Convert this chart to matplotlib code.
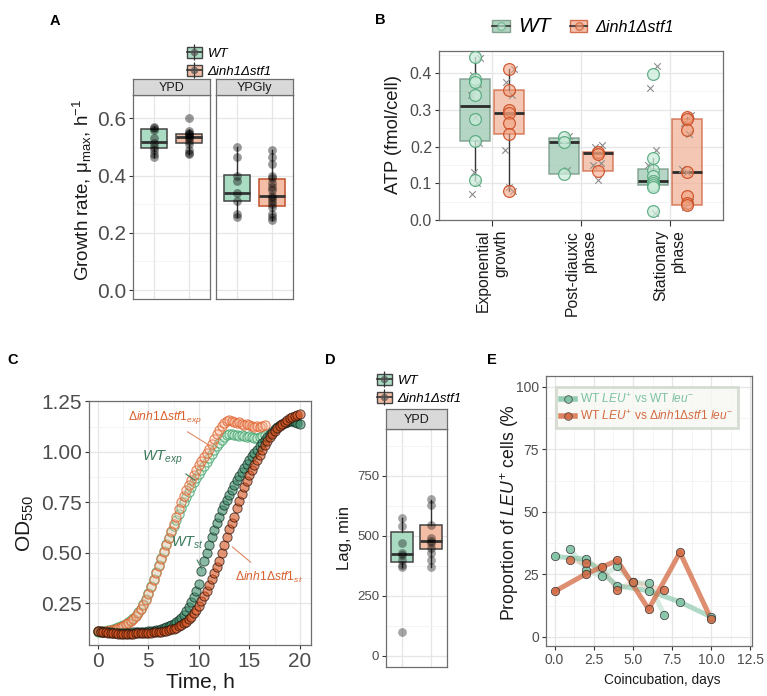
import numpy as np
import matplotlib.pyplot as plt
from matplotlib.patches import Patch
from matplotlib.lines import Line2D
from matplotlib.legend_handler import HandlerTuple

plt.rcParams['font.family'] = ['Liberation Sans', 'DejaVu Sans']
plt.rcParams['mathtext.fontset'] = 'custom'
plt.rcParams['mathtext.rm'] = 'Liberation Sans'
plt.rcParams['mathtext.it'] = 'Liberation Sans:italic'
plt.rcParams['mathtext.bf'] = 'Liberation Sans:bold'

# ---------------- data ----------------
# A: growth rate (box stats = lo, q1, median, q3, hi)
a_ypd_wt = [0.568, 0.565, 0.56, 0.53, 0.515, 0.50, 0.49, 0.475, 0.465]
a_ypd_mut = [0.60, 0.555, 0.55, 0.545, 0.54, 0.535, 0.53, 0.52, 0.51, 0.49, 0.48, 0.475]
a_ypgly_wt = [0.50, 0.465, 0.40, 0.38, 0.34, 0.31, 0.265, 0.255]
a_ypgly_mut = [0.49, 0.465, 0.44, 0.40, 0.39, 0.375, 0.36, 0.35, 0.33, 0.32, 0.31,
               0.30, 0.29, 0.265, 0.255, 0.245]
a_box_ypd = [[0.465, 0.495, 0.517, 0.563, 0.568], [0.475, 0.513, 0.535, 0.545, 0.56]]
a_box_ypgly = [[0.255, 0.31, 0.34, 0.403, 0.50], [0.245, 0.295, 0.33, 0.388, 0.49]]

# B: ATP per cell
b_phases = ['Exponential\ngrowth', 'Post-diauxic\nphase', 'Stationary\nphase']
b_wt_circ = [[0.443, 0.385, 0.375, 0.34, 0.275, 0.215, 0.11],
             [0.225, 0.213, 0.125],
             [0.398, 0.17, 0.135, 0.12, 0.105, 0.10, 0.095, 0.09, 0.025]]
b_mut_circ = [[0.41, 0.355, 0.30, 0.29, 0.265, 0.235, 0.08],
              [0.185, 0.18, 0.133],
              [0.28, 0.275, 0.245, 0.13, 0.065, 0.045, 0.04]]
b_wt_x = [[0.44, 0.395, 0.37, 0.34, 0.28, 0.21, 0.13, 0.10, 0.07],
          [0.23, 0.22, 0.135],
          [0.42, 0.36, 0.19, 0.15, 0.13, 0.11, 0.10, 0.02]]
b_mut_x = [[0.41, 0.375, 0.34, 0.19, 0.09, 0.08],
           [0.205, 0.20, 0.155, 0.15, 0.11],
           [0.285, 0.265, 0.235, 0.14, 0.13, 0.05, 0.035]]
b_wt_box = [[0.11, 0.215, 0.31, 0.383, 0.443], [0.125, 0.125, 0.212, 0.223, 0.225],
            [0.09, 0.095, 0.105, 0.14, 0.17]]
b_mut_box = [[0.08, 0.235, 0.29, 0.355, 0.41], [0.133, 0.133, 0.183, 0.185, 0.185],
             [0.04, 0.04, 0.13, 0.275, 0.28]]

# C: growth curves (OD550 every 15 min)
t_exp = np.arange(0, 16.51, 0.25)
t_st = np.arange(0, 20.01, 0.25)
od_wt_exp = [0.11, 0.11, 0.112, 0.114, 0.117, 0.12, 0.123, 0.127, 0.132, 0.137, 0.143, 0.15,
             0.158, 0.167, 0.178, 0.19, 0.205, 0.222, 0.245, 0.27, 0.30, 0.335, 0.37, 0.405,
             0.44, 0.475, 0.51, 0.545, 0.575, 0.605, 0.635, 0.665, 0.695, 0.72, 0.75, 0.775,
             0.80, 0.825, 0.85, 0.87, 0.89, 0.91, 0.93, 0.95, 0.97, 0.99, 1.01, 1.03, 1.045,
             1.06, 1.075, 1.085, 1.09, 1.09, 1.085, 1.085, 1.08, 1.085, 1.08, 1.075, 1.08,
             1.075, 1.07, 1.07, 1.075, 1.08, 1.085]
od_mut_exp = [0.115, 0.112, 0.11, 0.112, 0.114, 0.117, 0.12, 0.124, 0.128, 0.133, 0.139, 0.146,
              0.154, 0.163, 0.174, 0.187, 0.202, 0.22, 0.242, 0.268, 0.298, 0.33, 0.365, 0.40,
              0.435, 0.47, 0.505, 0.54, 0.575, 0.61, 0.645, 0.68, 0.715, 0.75, 0.78, 0.81,
              0.835, 0.86, 0.885, 0.91, 0.935, 0.955, 0.975, 0.995, 1.015, 1.04, 1.065, 1.09,
              1.11, 1.13, 1.145, 1.155, 1.16, 1.155, 1.15, 1.145, 1.15, 1.14, 1.135, 1.14,
              1.135, 1.13, 1.125, 1.13, 1.125, 1.13, 1.135]
od_wt_st = [0.115, 0.112, 0.11, 0.108, 0.107, 0.106, 0.105, 0.105, 0.104, 0.104, 0.104, 0.104,
            0.105, 0.105, 0.106, 0.106, 0.107, 0.108, 0.109, 0.11, 0.111, 0.113, 0.115, 0.117,
            0.12, 0.123, 0.127, 0.131, 0.136, 0.142, 0.149, 0.158, 0.168, 0.18, 0.195, 0.212,
            0.232, 0.255, 0.28, 0.31, 0.345, 0.41, 0.46, 0.50, 0.54, 0.58, 0.615, 0.65, 0.68,
            0.71, 0.735, 0.76, 0.785, 0.81, 0.835, 0.86, 0.88, 0.90, 0.92, 0.94, 0.96, 0.98,
            0.995, 1.01, 1.03, 1.045, 1.06, 1.075, 1.09, 1.10, 1.115, 1.125, 1.135, 1.14,
            1.145, 1.15, 1.155, 1.155, 1.15, 1.145, 1.14]
od_mut_st = [0.112, 0.11, 0.108, 0.106, 0.104, 0.103, 0.102, 0.101, 0.10, 0.10, 0.10, 0.10,
             0.10, 0.10, 0.10, 0.101, 0.101, 0.102, 0.102, 0.103, 0.104, 0.105, 0.106, 0.107,
             0.108, 0.11, 0.112, 0.115, 0.118, 0.121, 0.125, 0.13, 0.136, 0.143, 0.151, 0.16,
             0.172, 0.185, 0.20, 0.218, 0.238, 0.26, 0.285, 0.31, 0.34, 0.37, 0.40, 0.43, 0.46,
             0.50, 0.54, 0.58, 0.62, 0.65, 0.68, 0.72, 0.755, 0.79, 0.825, 0.855, 0.885, 0.91,
             0.935, 0.96, 0.985, 1.01, 1.035, 1.055, 1.075, 1.09, 1.105, 1.12, 1.13, 1.14,
             1.15, 1.16, 1.17, 1.175, 1.18, 1.185, 1.19]

# D: lag time
d_wt = [575, 540, 470, 430, 420, 400, 380, 370, 100]
d_mut = [655, 630, 545, 490, 480, 470, 450, 430, 400, 370]
d_wt_box = [370, 393, 425, 515, 576]
d_mut_box = [370, 446, 480, 547, 650]

# E: competition
e_wt_a_days = [0, 2, 4, 6, 8, 10]
e_wt_a = [32.2, 31.1, 20.5, 18.5, 14.0, 8.0]
e_wt_b_days = [1, 2, 3, 4, 5, 6, 7]
e_wt_b = [35.1, 26.9, 24.2, 28.2, 21.8, 21.5, 8.9]
e_mut_a_days = [0, 2, 4, 6, 8, 10]
e_mut_a = [18.2, 25.2, 30.6, 11.1, 33.8, 7.0]
e_mut_b_days = [1, 2, 3, 4, 5, 7]
e_mut_b = [30.8, 29.5, 27.8, 18.9, 21.8, 18.9]

# ---------------- style ----------------
W, H = 767, 696
fig = plt.figure(figsize=(W / 100, H / 100), dpi=100)


def rect(l, t, r, b):
    return [l / W, 1 - b / H, (r - l) / W, (b - t) / H]


MINT = '#aadcc4'
SALMON = '#f4bea6'
TICKC = '#4d4d4d'


def style(ax, size):
    ax.set_facecolor('white')
    for s in ax.spines.values():
        s.set_color('#6e6e6e')
        s.set_linewidth(0.9)
    ax.grid(which='major', color='#e6e6e6', lw=0.9)
    ax.grid(which='minor', color='#f3f3f3', lw=0.6)
    ax.set_axisbelow(True)
    ax.tick_params(which='major', length=3, color='#333333', labelcolor=TICKC,
                   labelsize=size, pad=2)
    ax.tick_params(which='minor', length=0)


def draw_box(ax, pos, st, width, face, edge, alpha=1.0, medc='#333333'):
    d = dict(whislo=st[0], q1=st[1], med=st[2], q3=st[3], whishi=st[4], fliers=[])
    out = ax.bxp([d], positions=[pos], widths=width, patch_artist=True, showcaps=False,
                 boxprops=dict(facecolor=face, edgecolor=edge, lw=1.1, alpha=alpha),
                 medianprops=dict(color=medc, lw=2.0),
                 whiskerprops=dict(color='#333333', lw=1.0), manage_ticks=False)
    return out


def strip(l, t, r, b, label):
    sa = fig.add_axes(rect(l, t, r, b))
    sa.set_facecolor('#d9d9d9')
    sa.set_xticks([])
    sa.set_yticks([])
    for s in sa.spines.values():
        s.set_color('#6e6e6e')
        s.set_linewidth(0.9)
    sa.text(0.5, 0.45, label, ha='center', va='center', fontsize=9, color='#1a1a1a',
            transform=sa.transAxes)


def box_key(face, edge, alpha=1.0, whisker=True, dot='#555555', dotedge='#555555', ms=4.5):
    parts = [Patch(facecolor=face, edgecolor=edge, alpha=alpha, lw=1.0)]
    if whisker:
        parts.append(Line2D([], [], marker='|', ls='', ms=11, mec='#333333', mew=0.9))
    parts.append(Line2D([], [], color='#333333', lw=1.2))
    parts.append(Line2D([], [], marker='o', ls='', ms=ms, mfc=dot, mec=dotedge, alpha=0.6))
    return tuple(parts)


def plabel(x, y, s):
    fig.text(x / W, 1 - y / H, s, fontsize=10.5, fontweight='bold', ha='center', va='center')


HT = {tuple: HandlerTuple(ndivide=1)}

# ---------------- A ----------------
plabel(55, 21, 'A')
for i, (l, r, name, wt, mut, bx) in enumerate([
        (133, 210, 'YPD', a_ypd_wt, a_ypd_mut, a_box_ypd),
        (216, 293, 'YPGly', a_ypgly_wt, a_ypgly_mut, a_box_ypgly)]):
    ax = fig.add_axes(rect(l, 95, r, 299))
    style(ax, 15)
    ax.set_xlim(0.4, 2.6)
    ax.set_ylim(-0.031, 0.681)
    ax.set_yticks([0, 0.2, 0.4, 0.6])
    ax.set_yticks([0.1, 0.3, 0.5], minor=True)
    ax.set_xticks([1, 2])
    ax.tick_params(axis='x', length=0, labelbottom=False)
    if i == 1:
        ax.tick_params(axis='y', length=0, labelleft=False)
    mut_edge = '#444444' if i == 0 else '#c0502a'
    draw_box(ax, 1, bx[0], 0.75, MINT, '#444444')
    draw_box(ax, 2, bx[1], 0.75, SALMON, mut_edge)
    ax.scatter(np.full(len(wt), 1.0), wt, s=40, color='black', alpha=0.4, lw=0, zorder=4)
    ax.scatter(np.full(len(mut), 2.0), mut, s=40, color='black', alpha=0.4, lw=0, zorder=4)
    strip(l, 79, r, 95, name)

fig.text(83 / W, 1 - 190 / H, r'Growth rate, $\mathrm{\mu}_{\mathrm{max}}$, h$^{-1}$',
         rotation=90, ha='center', va='center', fontsize=13.5, color='#1a1a1a')
fig.legend(handles=[box_key(MINT, '#444444'), box_key(SALMON, '#444444')],
           labels=['WT', 'Δinh1Δstf1'], handler_map=HT,
           loc='upper left', bbox_to_anchor=(178 / W, 1 - 38 / H), frameon=False,
           prop=dict(style='italic', size=9.5), handlelength=1.1, handleheight=0.9,
           labelspacing=0.35, handletextpad=0.45, borderpad=0.2)

# ---------------- B ----------------
plabel(380, 20, 'B')
axb = fig.add_axes(rect(439, 51, 723, 220))
style(axb, 11.5)
axb.set_xlim(0.4, 3.6)
axb.set_ylim(0, 0.46)
axb.set_yticks([0, 0.1, 0.2, 0.3, 0.4])
axb.set_yticks([0.05, 0.15, 0.25, 0.35, 0.45], minor=True)
axb.set_xticks([1, 2, 3])
axb.set_xticklabels(b_phases, rotation=90, ha='center', va='top', multialignment='right',
                    fontsize=11.3, color='#1a1a1a')
axb.tick_params(axis='x', length=4, pad=3)
offs_cycle = [0.05, -0.03, 0.03, -0.05, 0.0, 0.04, -0.02, 0.02, -0.04]
WT_CF = (0.80, 0.93, 0.86, 0.75)
WT_CE = (0.33, 0.66, 0.49, 0.9)
MU_CF = (0.95, 0.62, 0.48, 0.55)
MU_CE = (0.80, 0.30, 0.14, 0.9)
for k in range(3):
    xw, xm = k + 1 - 0.19, k + 1 + 0.19
    draw_box(axb, xw, b_wt_box[k], 0.34, '#9dc9b1', '#6e8f7d', alpha=0.75, medc='#2b2b2b')
    draw_box(axb, xm, b_mut_box[k], 0.34, '#f0b095', '#c8532b', alpha=0.7, medc='#2b2b2b')
    ow = np.resize(offs_cycle, len(b_wt_x[k]))
    om = np.resize(offs_cycle, len(b_mut_x[k]))
    axb.scatter(xw + ow, b_wt_x[k], marker='x', s=22, color='#8c8c8c', lw=0.8, zorder=4)
    axb.scatter(xm + om, b_mut_x[k], marker='x', s=22, color='#8c8c8c', lw=0.8, zorder=4)
    axb.scatter(np.full(len(b_wt_circ[k]), xw), b_wt_circ[k], s=72,
                facecolor=WT_CF, edgecolor=WT_CE, lw=0.9, zorder=5)
    axb.scatter(np.full(len(b_mut_circ[k]), xm), b_mut_circ[k], s=72,
                facecolor=MU_CF, edgecolor=MU_CE, lw=0.9, zorder=5)
fig.text(394 / W, 1 - 134 / H, 'ATP (fmol/cell)', rotation=90, ha='center', va='center',
         fontsize=13.2, color='#1a1a1a')
bkey_wt = box_key('#9dc9b1', '#6e8f7d', alpha=0.8, whisker=False, dot=WT_CF, dotedge=WT_CE,
                  ms=5.5)
bkey_mut = box_key('#f0b095', '#c8532b', alpha=0.8, whisker=False, dot=MU_CF, dotedge=MU_CE,
                   ms=5.5)
legb = fig.legend(handles=[bkey_wt, bkey_mut], labels=['WT', 'Δinh1Δstf1'],
                  handler_map=HT, ncol=2,
                  loc='center', bbox_to_anchor=(583 / W, 1 - 26 / H), frameon=False,
                  prop=dict(style='italic', size=11.6), handlelength=1.1, handleheight=0.8,
                  columnspacing=1.2, handletextpad=0.5)
legb.get_texts()[0].set_fontsize(15)

# ---------------- C ----------------
plabel(13, 360, 'C')
axc = fig.add_axes(rect(89, 401, 311, 645))
style(axc, 15)
axc.set_xlim(-0.89, 21.1)
axc.set_ylim(0.044, 1.252)
axc.set_xticks([0, 5, 10, 15, 20])
axc.set_xticks([2.5, 7.5, 12.5, 17.5], minor=True)
axc.set_yticks([0.25, 0.5, 0.75, 1.0, 1.25])
axc.set_yticks([0.375, 0.625, 0.875, 1.125], minor=True)
axc.scatter(t_exp, od_wt_exp, s=44, facecolor=(0.78, 0.92, 0.84, 0.35),
            edgecolor=(0.30, 0.66, 0.45, 0.85), lw=0.8, zorder=3)
axc.scatter(t_exp, od_mut_exp, s=44, facecolor=(0.97, 0.72, 0.60, 0.3),
            edgecolor=(0.88, 0.40, 0.20, 0.8), lw=0.8, zorder=3)
axc.scatter(t_st, od_wt_st, s=44, facecolor=(0.24, 0.55, 0.42, 0.6),
            edgecolor=(0.05, 0.15, 0.10, 0.7), lw=0.7, zorder=4)
axc.scatter(t_st, od_mut_st, s=44, facecolor=(0.84, 0.32, 0.12, 0.6),
            edgecolor=(0.15, 0.05, 0.02, 0.7), lw=0.7, zorder=4)
GREEN_T = '#3b7a5c'
ORANGE_T = '#d9602e'
axc.annotate(r'$\mathit{Δinh1Δstf1}_{\mathit{exp}}$', xy=(11.1, 1.03), xytext=(6.6, 1.17),
             fontsize=8.7, color=ORANGE_T, ha='center', va='center',
             arrowprops=dict(arrowstyle='-', color='#e08a66', lw=0.8, shrinkA=4, shrinkB=0))
axc.annotate(r'$\mathit{WT}_{\mathit{exp}}$', xy=(9.6, 0.86), xytext=(6.4, 0.97),
             fontsize=10.5, color=GREEN_T, ha='center', va='center',
             arrowprops=dict(arrowstyle='-', color='#3b7a5c', lw=0.8, shrinkA=5, shrinkB=0))
axc.annotate(r'$\mathit{WT}_{\mathit{st}}$', xy=(10.3, 0.42), xytext=(8.9, 0.55),
             fontsize=10.5, color=GREEN_T, ha='center', va='center',
             arrowprops=dict(arrowstyle='-', color='#3b7a5c', lw=0.8, shrinkA=5, shrinkB=0))
axc.annotate(r'$\mathit{Δinh1Δstf1}_{\mathit{st}}$', xy=(13.3, 0.53), xytext=(16.9, 0.38),
             fontsize=8.7, color=ORANGE_T, ha='center', va='center',
             arrowprops=dict(arrowstyle='-', color='#e08a66', lw=0.8, shrinkA=5, shrinkB=0))
fig.text(25 / W, 1 - 523 / H, r'OD$_{550}$', rotation=90, ha='center', va='center',
         fontsize=15, color='#1a1a1a')
fig.text(200 / W, 1 - 682 / H, 'Time, h', ha='center', va='center', fontsize=15,
         color='#1a1a1a')

# ---------------- D ----------------
plabel(330, 360, 'D')
axd = fig.add_axes(rect(386, 429, 447, 667))
style(axd, 9.5)
axd.set_xlim(0.45, 2.56)
axd.set_ylim(-46, 945)
axd.set_yticks([0, 250, 500, 750])
axd.set_yticks([125, 375, 625, 875], minor=True)
axd.set_xticks([1, 2])
axd.tick_params(axis='x', length=0, labelbottom=False)
draw_box(axd, 1, d_wt_box, 0.75, MINT, '#444444')
draw_box(axd, 2, d_mut_box, 0.75, SALMON, '#444444')
axd.scatter(np.full(len(d_wt), 1.0), d_wt, s=40, color='black', alpha=0.35, lw=0, zorder=4)
axd.scatter(np.full(len(d_mut), 2.0), d_mut, s=40, color='black', alpha=0.35, lw=0, zorder=4)
strip(386, 409, 447, 429, 'YPD')
fig.text(345 / W, 1 - 538 / H, 'Lag, min', rotation=90, ha='center', va='center',
         fontsize=12, color='#1a1a1a')
fig.legend(handles=[box_key(MINT, '#444444'), box_key(SALMON, '#444444')],
           labels=['WT', 'Δinh1Δstf1'], handler_map=HT,
           loc='upper left', bbox_to_anchor=(368 / W, 1 - 365 / H), frameon=False,
           prop=dict(style='italic', size=9.5), handlelength=1.1, handleheight=0.9,
           labelspacing=0.35, handletextpad=0.45, borderpad=0.2)

# ---------------- E ----------------
plabel(492, 360, 'E')
axe = fig.add_axes(rect(546, 376, 752, 646))
style(axe, 10)
axe.set_xlim(-0.55, 12.6)
axe.set_ylim(-3.6, 104.3)
axe.set_xticks([0, 2.5, 5, 7.5, 10, 12.5])
axe.set_xticks([1.25, 3.75, 6.25, 8.75, 11.25], minor=True)
axe.set_yticks([0, 25, 50, 75, 100])
axe.set_yticks([12.5, 37.5, 62.5, 87.5], minor=True)
GREEN_E = '#7cc2a2'
ORANGE_E = '#d56a42'
axe.plot(e_wt_b_days, e_wt_b, color=GREEN_E, lw=3.6, alpha=0.3, solid_capstyle='round', zorder=2)
axe.plot(e_mut_b_days, e_mut_b, color=ORANGE_E, lw=3.6, alpha=0.2, solid_capstyle='round', zorder=2)
axe.plot(e_wt_a_days, e_wt_a, color=GREEN_E, lw=3.6, alpha=0.6, solid_capstyle='round', zorder=3)
axe.plot(e_mut_a_days, e_mut_a, color=ORANGE_E, lw=3.6, alpha=0.75, solid_capstyle='round', zorder=3)
for dd, vv, c in [(e_wt_a_days, e_wt_a, GREEN_E), (e_wt_b_days, e_wt_b, GREEN_E),
                  (e_mut_a_days, e_mut_a, ORANGE_E), (e_mut_b_days, e_mut_b, ORANGE_E)]:
    axe.scatter(dd, vv, s=36, color=c, edgecolor='#333333', lw=0.6, alpha=0.85, zorder=5)
fig.text(510 / W, 1 - 513 / H, r'Proportion of $\mathit{LEU}^{+}$ cells (%', rotation=90,
         ha='center', va='center', fontsize=12.7, color='#1a1a1a')
fig.text(662 / W, 1 - 680 / H, 'Coincubation, days', ha='center', va='center',
         fontsize=9.8, color='#1a1a1a')
ekeys = [Line2D([], [], color=GREEN_E, lw=4, alpha=0.8, marker='o', ms=5.5, mfc=GREEN_E,
                mec='#333333', mew=0.6),
         Line2D([], [], color=ORANGE_E, lw=4, alpha=0.8, marker='o', ms=5.5, mfc=ORANGE_E,
                mec='#333333', mew=0.6)]
lege = axe.legend(handles=ekeys,
                  labels=[r'WT $\mathit{LEU}^{+}$ vs WT $\mathit{leu}^{-}$',
                          r'WT $\mathit{LEU}^{+}$ vs $\mathit{Δinh1Δstf1\ leu}^{-}$'],
                  loc='upper left', bbox_to_anchor=(0.02, 0.98), fontsize=8.6,
                  handlelength=1.2, handletextpad=0.4, labelspacing=0.25, borderpad=0.4,
                  fancybox=False, labelcolor=[GREEN_E, ORANGE_E])
lege.get_frame().set_facecolor('#f7f7f3')
lege.get_frame().set_edgecolor('#cfd6c9')
lege.get_frame().set_linewidth(2.0)

fig.savefig('out.png', dpi=100)
